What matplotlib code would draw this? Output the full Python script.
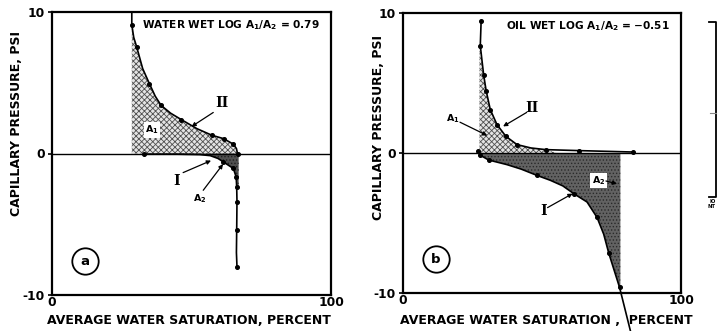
import matplotlib
matplotlib.use("Agg")
import matplotlib.pyplot as plt
from matplotlib.patches import Polygon

plt.rcParams['font.family'] = ['DejaVu Sans']
plt.rcParams['hatch.linewidth'] = 0.6

# ---- panel (a): water-wet sample ----
a_sw_II = [28.6, 28.6, 29.3, 30.4, 32.5, 34.9, 37.0, 39.1, 42.5, 46.3, 52.0, 57.3, 61.5, 65.0, 66.1, 66.5]
a_pc_II = [10.0, 9.1, 8.2, 7.5, 6.0, 4.94, 4.05, 3.4, 2.85, 2.4, 1.75, 1.29, 1.05, 0.66, 0.35, 0.0]
a_mk_II = [1, 3, 5, 7, 9, 11, 12, 13, 15]

a_sw_I = [32.8, 45.0, 53.0, 56.7, 59.5, 61.4, 65.0, 66.0, 66.2, 66.3, 66.2, 66.1, 66.3]
a_pc_I = [-0.05, -0.05, -0.08, -0.15, -0.35, -0.59, -1.06, -1.65, -2.36, -3.4, -5.4, -7.0, -8.0]
a_mk_I = [0, 5, 6, 7, 8, 9, 10, 12]

# ---- panel (b): oil-wet sample ----
b_sw_II = [28.1, 27.8, 29.0, 29.9, 31.4, 33.8, 37.0, 41.0, 46.0, 51.4, 63.4, 82.7]
b_pc_II = [9.4, 7.67, 5.6, 4.46, 3.1, 2.03, 1.19, 0.6, 0.36, 0.24, 0.17, 0.07]
b_mk_II = [0, 1, 2, 3, 4, 5, 6, 7, 9, 10, 11]

b_sw_I = [26.8, 27.8, 30.8, 37.4, 42.5, 48.2, 53.0, 57.5, 61.4, 66.2, 69.8, 72.2, 74.0, 77.9, 81.8]
b_pc_I = [0.12, -0.16, -0.5, -0.83, -1.15, -1.6, -1.95, -2.35, -2.9, -3.5, -4.6, -5.8, -7.14, -9.6, -12.7]
b_mk_I = [0, 1, 2, 5, 8, 10, 12, 13]

y_ticks = [-10, 0, 10]
y_tick_labels = ["-10", "0", "10"]
x_ticks = [0, 100]
x_tick_labels = ["0", "100"]

W, H = 723, 331
fig = plt.figure(figsize=(W / 100, H / 100), dpi=100)


def px_axes(left, top, right, bottom):
    return fig.add_axes([left / W, 1 - bottom / H, (right - left) / W, (bottom - top) / H])


def style_axes(ax):
    ax.set_xlim(0, 100)
    ax.set_ylim(-10, 10)
    for s in ax.spines.values():
        s.set_linewidth(1.6)
    ax.set_yticks(y_ticks)
    ax.set_yticklabels(y_tick_labels, fontsize=8.8, fontweight='bold')
    ax.set_xticks(x_ticks)
    ax.set_xticklabels(x_tick_labels, fontsize=8.8, fontweight='bold')
    ax.tick_params(axis='y', length=3, width=1.2, pad=2)
    ax.tick_params(axis='x', length=0, pad=1)
    ax.axhline(0, color='black', lw=1.0, zorder=2)


def draw_curve(ax, sw, pc, marks, clip=True):
    ax.plot(sw, pc, color='black', lw=1.2, zorder=4, clip_on=clip)
    ax.plot([sw[i] for i in marks], [pc[i] for i in marks], 'o', color='black',
            ms=2.6, zorder=5, clip_on=clip)


def roman(ax, x, y, s):
    ax.text(x, y, s, fontsize=10, fontweight='bold', family='DejaVu Serif',
            ha='center', va='center', zorder=7)


def arrow(ax, xy_from, xy_to):
    ax.annotate('', xy=xy_to, xytext=xy_from,
                arrowprops=dict(arrowstyle='-|>', color='black', lw=0.9,
                                mutation_scale=6, shrinkA=0, shrinkB=0), zorder=7)


def panel_tag(ax, x, y, s):
    ax.plot([x], [y], 'o', ms=19, mfc='none', mec='black', mew=1.3, zorder=6)
    ax.text(x, y, s, fontsize=9.5, fontweight='bold', ha='center', va='center', zorder=7)


# ================= panel (a) =================
ax = px_axes(52, 12, 331, 295)
style_axes(ax)

# A1: between drainage curve II and Pc = 0
poly_a1 = [(a_sw_II[0], 0.0)] + list(zip(a_sw_II, a_pc_II))
ax.add_patch(Polygon(poly_a1, closed=True, facecolor='#e4e4e4', edgecolor='#505050',
                     lw=0, hatch='xxxxxx', zorder=1))
# A2: between curve I and Pc = 0, bounded by the end of curve II
n2 = 9
poly_a2 = [(a_sw_I[0], 0.0)] + list(zip(a_sw_I[:n2], a_pc_I[:n2])) + \
          [(a_sw_II[-1] + 0.4, a_pc_I[n2 - 1]), (a_sw_II[-1] + 0.4, 0.0)]
ax.add_patch(Polygon(poly_a2, closed=True, facecolor='#505050', edgecolor='#202020',
                     lw=0, hatch='.....', zorder=1))

draw_curve(ax, a_sw_II, a_pc_II, a_mk_II)
draw_curve(ax, a_sw_I, a_pc_I, a_mk_I)

ax.text(96, 9.1, "WATER WET LOG A$_\\mathbf{1}$/A$_\\mathbf{2}$ = 0.79", fontsize=7.6,
        fontweight='bold', ha='right', va='center', zorder=7)
roman(ax, 61.0, 3.55, "II")
arrow(ax, (57.8, 2.9), (50.0, 1.9))
ax.text(35.8, 1.65, "A$_\\mathbf{1}$", fontsize=6.8, fontweight='bold', ha='center',
        va='center', zorder=7, bbox=dict(boxstyle='square,pad=0.15', fc='white', ec='none'))
roman(ax, 44.8, -1.95, "I")
arrow(ax, (47.0, -1.35), (57.0, -0.5))
ax.text(53.0, -3.2, "A$_\\mathbf{2}$", fontsize=6.8, fontweight='bold', ha='center',
        va='center', zorder=7)
arrow(ax, (54.2, -2.6), (61.3, -0.75))
panel_tag(ax, 11.8, -7.6, "a")

# ================= panel (b) =================
bx = px_axes(403, 13, 681, 293)
style_axes(bx)

poly_b1 = [(27.5, 0.0), (27.5, b_pc_II[1])] + list(zip(b_sw_II[1:10], b_pc_II[1:10])) + \
          [(b_sw_II[9] + 4, 0.0)]
bx.add_patch(Polygon(poly_b1, closed=True, facecolor='#e4e4e4', edgecolor='#505050',
                     lw=0, hatch='xxxxxx', zorder=1))
m2 = 14
poly_b2 = [(b_sw_I[0], 0.0)] + list(zip(b_sw_I[:m2], b_pc_I[:m2])) + \
          [(78.2, -9.85), (78.2, 0.0)]
bx.add_patch(Polygon(poly_b2, closed=True, facecolor='#626262', edgecolor='#2a2a2a',
                     lw=0, hatch='.....', zorder=1))

draw_curve(bx, b_sw_II, b_pc_II, b_mk_II)
draw_curve(bx, b_sw_I, b_pc_I, b_mk_I, clip=False)

bx.text(96, 9.05, "OIL WET LOG A$_\\mathbf{1}$/A$_\\mathbf{2}$ = \u22120.51", fontsize=7.6,
        fontweight='bold', ha='right', va='center', zorder=7)
roman(bx, 46.5, 3.2, "II")
arrow(bx, (44.5, 2.9), (36.0, 1.9))
bx.text(18.0, 2.45, "A$_\\mathbf{1}$", fontsize=6.8, fontweight='bold', ha='center',
        va='center', zorder=7)
arrow(bx, (20.5, 2.2), (30.3, 1.25))
bx.text(70.3, -1.95, "A$_\\mathbf{2}$", fontsize=6.8, fontweight='bold', ha='center',
        va='center', zorder=7, bbox=dict(boxstyle='square,pad=0.15', fc='white', ec='none'))
arrow(bx, (73.0, -2.0), (77.0, -2.2))
roman(bx, 50.5, -4.15, "I")
arrow(bx, (52.0, -3.9), (61.0, -2.9))
panel_tag(bx, 11.7, -7.6, "b")

# axis titles
lab_font = dict(fontsize=9.0, fontweight='bold', family='DejaVu Sans')
fig.text(189 / W, 1 - 320 / H, "AVERAGE WATER SATURATION, PERCENT", ha='center',
         va='center', **lab_font)
fig.text(546 / W, 1 - 320 / H, "AVERAGE WATER SATURATION ,  PERCENT", ha='center',
         va='center', **lab_font)
fig.text(17 / W, 1 - 124 / H, "CAPILLARY PRESSURE, PSI", rotation=90, ha='center',
         va='center', **lab_font)
fig.text(379 / W, 1 - 127 / H, "CAPILLARY PRESSURE, PSI", rotation=90, ha='center',
         va='center', **lab_font)

# edge of the neighbouring panel
edge = fig.add_axes([0, 0, 1, 1], facecolor='none')
edge.set_xlim(0, W)
edge.set_ylim(H, 0)
edge.axis('off')
edge.plot([709, 716, 716, 709], [21.7, 21.7, 196.7, 196.7], color='black', lw=1.3)
edge.plot([710, 716], [113, 113], color='#888888', lw=0.8)
edge.text(713, 201.5, "IO", fontsize=3.8, fontweight='bold', ha='center', va='center')
edge.text(712, 206.5, "NT", fontsize=3.8, fontweight='bold', ha='center', va='center')

fig.savefig("out.png", dpi=100)
